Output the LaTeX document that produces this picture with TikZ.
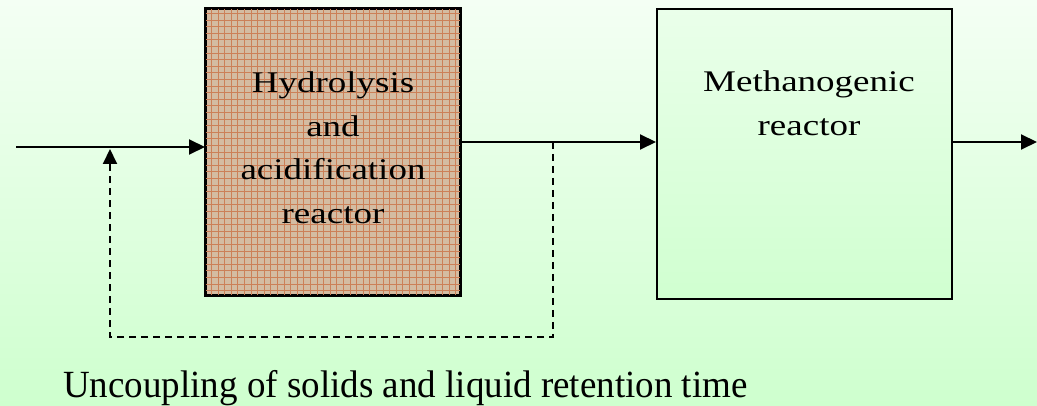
\documentclass[tikz,border=0pt]{standalone}
\usepackage{fontspec}
\setmainfont{Liberation Serif}
\usetikzlibrary{arrows.meta,calc}
\definecolor{bgtop}{RGB}{244,255,244}
\definecolor{bgbot}{RGB}{206,255,206}
\definecolor{brownfill}{RGB}{212,188,162}
\definecolor{brownline}{RGB}{204,128,88}
\definecolor{greentop}{RGB}{234,255,234}
\definecolor{greenbot}{RGB}{208,255,208}
\tikzset{
  reactor/.style={draw=black, line width=2pt, rectangle, inner sep=0pt},
  flow/.style={line width=2pt, -{Triangle[length=16pt,width=15pt]}},
  recycle/.style={line width=2pt, dash pattern=on 7pt off 5pt, -{Triangle[length=15pt,width=14pt]}},
  boxtext/.style={inner sep=0pt, font=\fontsize{37}{44}\selectfont},
  caption/.style={inner sep=0pt, anchor=base west, font=\fontsize{37}{44}\selectfont}
}
\begin{document}
\begin{tikzpicture}[x=1pt,y=-1pt]
\useasboundingbox (0,0) rectangle (1037,406);
\shade[top color=bgtop, bottom color=bgbot] (0,0) rectangle (1037,406);
% reactors
\node[reactor, fill=brownfill, minimum width=254pt, minimum height=286pt] (b1) at (333,152) {};
\begin{scope}
  \clip (b1.south west) rectangle (b1.north east);
  \draw[brownline, line width=0.4pt, step=6.6pt] (206,9) grid (460,295);
\end{scope}
\draw[line width=2pt] (b1.south west) rectangle (b1.north east);
\node[reactor, minimum width=295pt, minimum height=290pt, top color=greentop, bottom color=greenbot] (b2) at (804.5,154) {};
% texts
\node[boxtext] (t1) at (333,151) {\scalebox{1}[0.81]{\begin{tabular}{@{}c@{}}Hydrolysis\\[10pt]and\\[10pt]acidification\\[10pt]reactor\end{tabular}}};
\node[boxtext, anchor=base] (t2) at (809,92) {\scalebox{1}[0.81]{Methanogenic}};
\node[boxtext, anchor=base] (t3) at (809,136) {\scalebox{1}[0.81]{reactor}};
\node[caption] (cap) at (63,397) {\scalebox{1}[1.04]{Uncoupling of solids and liquid retention time}};
% connectors
\coordinate (in) at (16,147);
\coordinate (mid) at (460,142);
\coordinate (out) at (1037,142);
\coordinate (fb) at (553,142);
\coordinate (c1) at (553,337);
\coordinate (c2) at (110,337);
\coordinate (ret) at (110,149);
\draw[flow] (in) -- (in -| b1.west);
\draw[flow] (b1.east |- mid) -- (b2.west |- mid);
\draw[flow] (b2.east |- mid) -- (out);
\draw[recycle] (fb) -- (c1) -- (c2) -- (ret);
\end{tikzpicture}
\end{document}
